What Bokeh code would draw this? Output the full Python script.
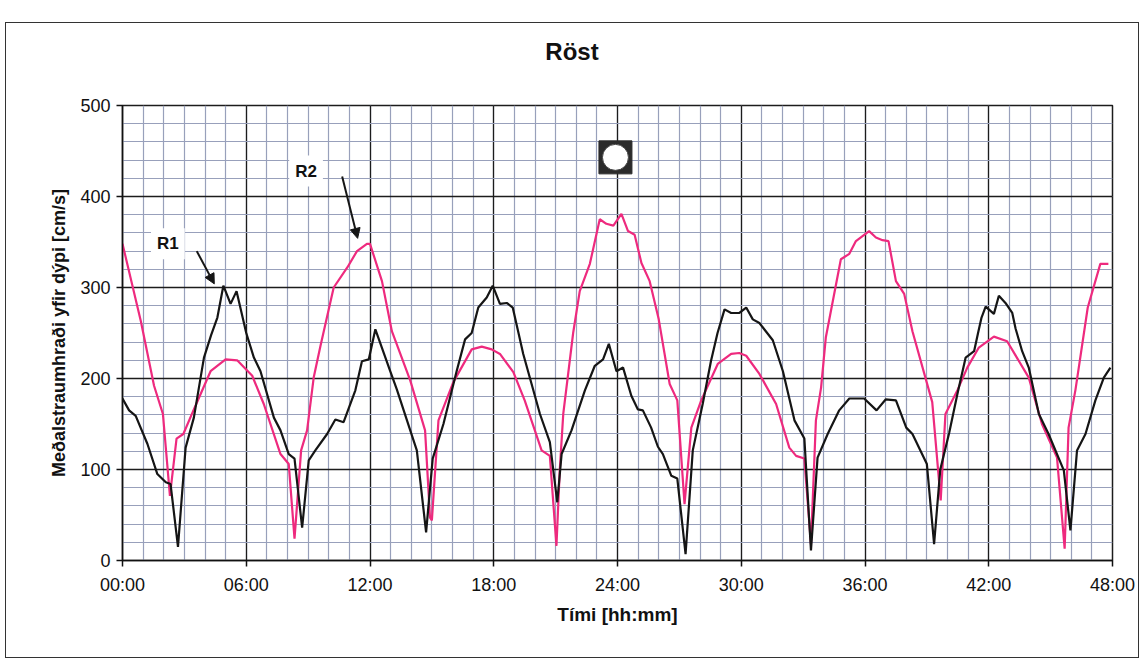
from bokeh.plotting import figure
from bokeh.models import FixedTicker, Label, Arrow, NormalHead, Range1d, Div
from bokeh.layouts import column
from bokeh.embed import file_html
from bokeh.resources import INLINE

# ---- data (hours, cm/s) ----
r2_t = [0, 0.89, 1.53, 1.96, 2.30, 2.62, 2.95, 3.46, 4.27, 5.0, 5.56, 6.29, 6.85, 7.66, 8.06, 8.34,
        8.66, 8.95, 9.27, 9.6, 10.24, 10.9, 11.37, 11.85, 12.0, 12.58, 13.06, 13.95, 14.67, 14.91,
        15.0, 15.32, 16.04, 16.93, 17.42, 17.9, 18.3, 18.95, 19.5, 20.32, 20.72, 21.04, 21.2, 21.37,
        21.85, 22.17, 22.66, 23.14, 23.46, 23.8, 24.19, 24.51, 24.83, 25.16, 25.56, 26.0, 26.53,
        26.9, 27.25, 27.58, 28.06, 28.86, 29.51, 29.9, 30.24, 30.88, 31.69, 32.33, 32.66, 33.06,
        33.38, 33.62, 33.87, 34.1, 34.83, 35.24, 35.56, 36.2, 36.53, 36.85, 37.14, 37.5, 37.9,
        38.3, 39.26, 39.67, 39.9, 40.5, 40.96, 41.52, 42.25, 42.89, 43.94, 44.58, 45.31, 45.68,
        45.87, 46.2, 46.8, 47.41, 47.8]
r2_v = [348, 263, 192, 161, 71, 134, 139, 166, 208, 221, 220, 203, 172, 117, 106, 24,
        121, 143, 201, 236, 300, 322, 340, 348, 348, 307, 252, 198, 143, 47,
        44, 154, 196, 232, 235, 232, 227, 207, 176, 121, 115, 16, 99, 161,
        250, 296, 326, 375, 370, 368, 381, 362, 358, 327, 307, 265, 194,
        176, 62, 146, 176, 216, 227, 228, 225, 205, 172, 124, 115, 112,
        18, 154, 190, 245, 331, 337, 351, 362, 355, 352, 351, 307, 293,
        252, 174, 66, 161, 188, 212, 234, 246, 241, 201, 150, 113, 13,
        146, 187, 278, 326, 326]

r1_t = [0, 0.32, 0.64, 1.21, 1.69, 2.1, 2.33, 2.69, 3.06, 3.46, 3.95, 4.3, 4.6, 4.89, 5.24, 5.53,
        6.0, 6.37, 6.69, 7.34, 7.66, 8.06, 8.34, 8.71, 9.03, 9.35, 9.92, 10.32, 10.72, 11.29,
        11.61, 11.94, 12.26, 12.98, 13.3, 14.27, 14.72, 15.04, 15.56, 16.2, 16.61, 16.93, 17.25,
        17.66, 17.95, 18.3, 18.63, 18.92, 19.2, 19.43, 20.24, 20.72, 21.08, 21.29, 21.77, 22.42,
        22.9, 23.3, 23.58, 23.95, 24.27, 24.67, 24.99, 25.23, 25.63, 25.96, 26.2, 26.61, 26.9,
        27.3, 27.65, 28.13, 28.53, 28.85, 29.19, 29.51, 29.91, 30.24, 30.56, 30.88, 31.53, 32.02,
        32.58, 33.06, 33.38, 33.7, 34.19, 34.75, 35.24, 35.96, 36.56, 37.0, 37.5, 38.0, 38.3,
        39.0, 39.35, 39.65, 40.08, 40.48, 40.88, 41.29, 41.5, 41.65, 41.85, 42.25, 42.49, 42.81,
        43.14, 43.3, 43.62, 43.94, 44.43, 44.9, 45.64, 45.96, 46.28, 46.69, 47.17, 47.58, 47.9]
r1_v = [178, 165, 159, 128, 95, 86, 84, 15, 124, 157, 223, 248, 267, 302, 282, 296,
        250, 223, 208, 157, 143, 117, 112, 36, 110, 121, 139, 155, 152, 187,
        219, 221, 254, 208, 188, 121, 31, 112, 150, 208, 243, 250, 278,
        289, 302, 282, 283, 278, 250, 227, 161, 130, 64, 117, 143, 187,
        214, 221, 238, 208, 212, 181, 166, 165, 146, 125, 117, 93, 90,
        7, 121, 172, 219, 250, 276, 272, 272, 278, 265, 261, 242, 208,
        154, 134, 11, 113, 139, 165, 178, 178, 165, 177, 176, 146, 139,
        106, 18, 100, 140, 183, 223, 230, 252, 267, 279, 271, 291, 283,
        272, 255, 230, 212, 161, 139, 99, 33, 121, 139, 176, 201, 212]

x_ticks = [0, 6, 12, 18, 24, 30, 36, 42, 48]
x_labels = ["00:00", "06:00", "12:00", "18:00", "24:00", "30:00", "36:00", "42:00", "48:00"]
y_ticks = [0, 100, 200, 300, 400, 500]
title_text = "Röst"

FONT = "Liberation Sans"

title_div = Div(text=title_text, width=1132, height=60, margin=(0, 0, 0, 0),
                styles={"font-family": FONT, "font-size": "24px", "font-weight": "bold",
                        "text-align": "center", "line-height": "58px", "color": "#111"})

p = figure(width=1132, height=574, output_backend="svg", toolbar_location=None,
           x_range=Range1d(0, 48), y_range=Range1d(0, 500),
           min_border_left=116, min_border_right=26, min_border_top=22, min_border_bottom=97)
p.margin = (0, 0, 0, 0)

p.xaxis.ticker = FixedTicker(ticks=x_ticks, minor_ticks=list(range(0, 49)))
p.xaxis.major_label_overrides = {t: l for t, l in zip(x_ticks, x_labels)}
p.yaxis.ticker = FixedTicker(ticks=y_ticks, minor_ticks=list(range(0, 501, 20)))

for ax in (p.xaxis, p.yaxis):
    ax.major_label_text_font = FONT
    ax.major_label_text_font_size = "18px"
    ax.major_label_text_color = "#111"
    ax.axis_label_text_font = FONT
    ax.axis_label_text_font_style = "bold"
    ax.axis_label_text_color = "#111"
    ax.axis_line_color = "#111"
    ax.axis_line_width = 1.5
    ax.major_tick_line_color = "#111"
    ax.major_tick_line_width = 1.5
    ax.major_tick_out = 6
    ax.major_tick_in = 0
    ax.minor_tick_line_color = None

p.xaxis.axis_label = "Tími [hh:mm]"
p.yaxis.axis_label = "Meðalstraumhraði yfir dýpi [cm/s]"
p.xaxis.axis_label_text_font_size = "19px"
p.yaxis.axis_label_text_font_size = "18px"
p.xaxis.major_label_standoff = 8
p.xaxis.axis_label_standoff = 6
p.yaxis.major_label_standoff = 6
p.yaxis.axis_label_standoff = 8

for g in (p.xgrid, p.ygrid):
    g.grid_line_color = "#1c1c1c"
    g.grid_line_width = 1.3
    g.minor_grid_line_color = "#98a0bb"
    g.minor_grid_line_width = 1.2

p.outline_line_color = "#1c1c1c"
p.outline_line_width = 1.5

p.line(r2_t, r2_v, line_color="#ee2a7e", line_width=2.2)
p.line(r1_t, r1_v, line_color="#151515", line_width=2.2)

# annotations
p.add_layout(Label(x=2.2, y=348, text="R1", text_font=FONT, text_font_size="17px",
                   text_font_style="bold", text_align="center", text_baseline="middle",
                   text_color="#111", background_fill_color="white", padding=6))
p.add_layout(Label(x=8.9, y=428, text="R2", text_font=FONT, text_font_size="17px",
                   text_font_style="bold", text_align="center", text_baseline="middle",
                   text_color="#111", background_fill_color="white", padding=6))
p.add_layout(Arrow(x_start=3.6, y_start=340, x_end=4.45, y_end=304, line_width=2, line_color="#151515",
                   end=NormalHead(size=10, fill_color="#151515", line_color="#151515")))
p.add_layout(Arrow(x_start=10.65, y_start=422, x_end=11.4, y_end=354, line_width=2, line_color="#151515",
                   end=NormalHead(size=10, fill_color="#151515", line_color="#151515")))

# moon-phase symbol
p.scatter([23.9], [443], marker="square", size=33, fill_color="#2b2b2b", line_color="#2b2b2b")
p.scatter([23.9], [443], marker="circle", size=26, fill_color="white", line_color="#444", line_width=1)

layout = column(title_div, p, spacing=0)
layout.styles = {"margin-top": "22px", "margin-left": "5px", "border": "1px solid #333"}

open("out.html", "w").write(file_html(layout, INLINE))
